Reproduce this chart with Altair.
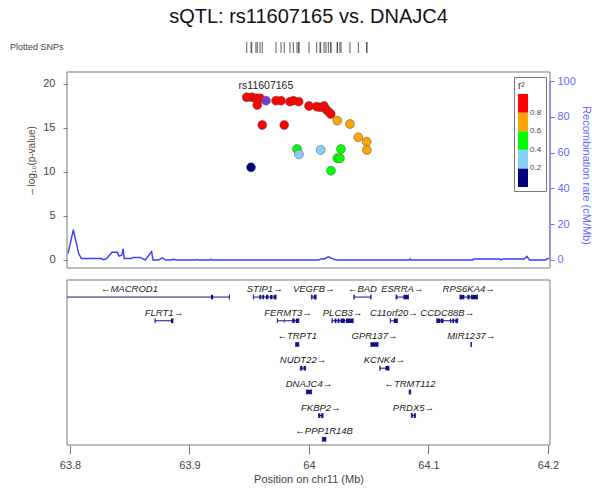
import altair as alt
import pandas as pd

# ---------------- association results ----------------
snp_pos = [63.9479, 63.9521, 63.9556, 63.9590, 63.9567, 63.9724, 63.9766, 63.9841, 63.9869, 63.9914,
           64.0000, 64.0064, 64.0092, 64.0126, 64.0142, 64.0162, 64.0182, 63.9609, 63.9793,
           64.0237, 64.0343, 64.0413, 64.0483, 64.0485,
           63.9900, 64.0268, 64.0237, 64.0259, 64.0184,
           63.9916, 64.0098,
           63.9515]
snp_logp = [18.49, 18.49, 18.38, 18.38, 17.61, 18.10, 18.10, 17.99, 18.10, 17.99,
            17.50, 17.42, 17.35, 17.50, 17.13, 16.85, 16.59, 15.34, 15.34,
            15.83, 15.45, 13.94, 13.44, 12.50,
            12.61, 12.61, 11.56, 11.56, 10.15,
            12.01, 12.50,
            10.53]
snp_r2 = [0.97, 0.96, 0.95, 0.95, 0.88, 0.96, 0.95, 0.94, 0.95, 0.93,
          0.92, 0.91, 0.90, 0.92, 0.89, 0.87, 0.86, 0.84, 0.83,
          0.78, 0.75, 0.70, 0.66, 0.63,
          0.52, 0.55, 0.47, 0.48, 0.42,
          0.32, 0.28,
          0.12]

lead_name = "rs11607165"
lead_pos = 63.9640
lead_logp = 18.10

# ---------------- recombination rate (cM/Mb) ----------------
rec_pos = [63.7984, 63.8028, 63.8072, 63.8095, 63.8263, 63.8278, 63.8307, 63.8351, 63.8395, 63.8409,
           63.8433, 63.8445, 63.8454, 63.8512, 63.8527, 63.8586, 63.8630, 63.8683, 63.8695, 63.8740,
           63.8771, 63.8800, 63.8850, 63.8864, 63.8894, 63.9050, 63.9061, 63.9070, 63.9170, 63.9179,
           63.9188, 64.0083, 64.0098, 64.0127, 64.0162, 64.0201, 64.0230, 64.0840, 64.0847, 64.0855,
           64.1370, 64.1375, 64.1595, 64.1605, 64.1625, 64.1801, 64.1824, 64.1845, 64.1977, 64.2007]
rec_rate = [3.7, 16.9, 3.7, 0.8, 0.8, 0.2, 0.8, 4.3, 4.3, 2.2,
            2.7, 6.3, 0.8, 0.8, 1.4, 1.4, 0.0, 4.7, 0.0, 0.0,
            1.2, 0.0, 0.0, 0.4, 0.0, 0.0, 0.3, 0.0, 0.0, 0.5,
            0.0, 0.0, 0.6, 0.6, 1.8, 0.6, 0.0, 0.0, 0.6, 0.0,
            0.0, 0.6, 0.6, 0.0, 0.6, 0.6, 2.0, 0.0, 0.0, 1.0]

# ---------------- genes ----------------
gene_name = ["MACROD1", "STIP1", "VEGFB", "BAD", "ESRRA", "RPS6KA4",
             "FLRT1", "FERMT3", "PLCB3", "C11orf20", "CCDC88B",
             "TRPT1", "GPR137", "MIR1237",
             "NUDT22", "KCNK4",
             "DNAJC4", "TRMT112",
             "FKBP2", "PRDX5",
             "PPP1R14B"]
gene_start = [63.7660, 63.9534, 64.0020, 64.0375, 64.0728, 64.1263,
              63.8711, 63.9735, 64.0192, 64.0680, 64.1069,
              63.9888, 64.0518, 64.1356,
              63.9928, 64.0592,
              63.9978, 64.0838,
              64.0080, 64.0856,
              64.0112]
gene_end = [63.9335, 63.9725, 64.0060, 64.0520, 64.0833, 64.1410,
            63.8862, 63.9915, 64.0370, 64.0740, 64.1245,
            63.9915, 64.0578, 64.1359,
            63.9972, 64.0670,
            64.0022, 64.0852,
            64.0118, 64.0892,
            64.0142]
gene_strand = ["-", "+", "+", "-", "+", "+",
               "+", "+", "+", "+", "+",
               "-", "+", "+",
               "+", "+",
               "+", "-",
               "+", "+",
               "-"]
gene_row = [0, 0, 0, 0, 0, 0,
            1, 1, 1, 1, 1,
            2, 2, 2,
            3, 3,
            4, 4,
            5, 5,
            6]

exon_gene = ["MACROD1", "MACROD1",
             "STIP1", "STIP1", "STIP1", "STIP1", "STIP1", "STIP1",
             "VEGFB", "VEGFB", "BAD", "BAD", "ESRRA", "ESRRA",
             "RPS6KA4", "RPS6KA4", "RPS6KA4",
             "FLRT1", "FLRT1",
             "FERMT3", "FERMT3", "FERMT3", "FERMT3",
             "PLCB3", "PLCB3", "PLCB3", "PLCB3", "PLCB3",
             "C11orf20", "C11orf20",
             "CCDC88B", "CCDC88B", "CCDC88B", "CCDC88B", "CCDC88B",
             "TRPT1", "GPR137", "MIR1237",
             "NUDT22", "NUDT22", "KCNK4", "KCNK4",
             "DNAJC4", "TRMT112", "FKBP2", "FKBP2", "PRDX5", "PRDX5", "PPP1R14B"]
exon_start = [63.9180, 63.9330,
              63.9534, 63.9585, 63.9610, 63.9640, 63.9675, 63.9705,
              64.0020, 64.0040, 64.0375, 64.0513, 64.0728, 64.0790,
              64.1263, 64.1325, 64.1355,
              63.8711, 63.8845,
              63.9735, 63.9790, 63.9860, 63.9890,
              64.0192, 64.0215, 64.0240, 64.0265, 64.0310,
              64.0680, 64.0710,
              64.1069, 64.1105, 64.1180, 64.1200, 64.1225,
              63.9888, 64.0518, 64.1355,
              63.9928, 63.9955, 64.0592, 64.0640,
              63.9978, 64.0838, 64.0080, 64.0102, 64.0856, 64.0878, 64.0112]
exon_end = [63.9198, 63.9335,
            63.9540, 63.9600, 63.9625, 63.9660, 63.9695, 63.9725,
            64.0030, 64.0060, 64.0382, 64.0520, 64.0740, 64.0833,
            64.1300, 64.1345, 64.1410,
            63.8716, 63.8862,
            63.9740, 63.9795, 63.9880, 63.9915,
            64.0198, 64.0230, 64.0255, 64.0300, 64.0370,
            64.0686, 64.0740,
            64.1100, 64.1125, 64.1190, 64.1215, 64.1245,
            63.9915, 64.0578, 64.1362,
            63.9945, 63.9972, 64.0598, 64.0670,
            64.0022, 64.0852, 64.0095, 64.0118, 64.0870, 64.0892, 64.0142]

r2_breaks = [0.2, 0.4, 0.6, 0.8]
r2_colors = ["#000080", "#87CEFA", "#00FF00", "#FFA500", "#FF0000"]
tick_mb = [63.8, 63.9, 64.0, 64.1, 64.2]
logp_ticks = [0, 5, 10, 15, 20]
rec_ticks = [0, 20, 40, 60, 80, 100]

# ---------------- tables ----------------
snps = pd.DataFrame({"pos": snp_pos, "logp": snp_logp, "r2": snp_r2})
lead = pd.DataFrame({"pos": [lead_pos], "logp": [lead_logp], "name": [lead_name]})
rec = pd.DataFrame({"pos": rec_pos, "rate": rec_rate})
genes = pd.DataFrame({"name": gene_name, "start": gene_start, "end": gene_end,
                      "strand": gene_strand, "row": gene_row})
genes["mid"] = (genes["start"] + genes["end"]) / 2
genes["label"] = [n + "→" if s == "+" else "←" + n for n, s in zip(genes["name"], genes["strand"])]
exons = pd.DataFrame({"name": exon_gene, "start": exon_start, "end": exon_end}).merge(
    genes[["name", "row"]], on="name")
gene_ends = pd.concat([
    genes[["start", "row"]].rename(columns={"start": "pos"}),
    genes[["end", "row"]].rename(columns={"end": "pos"}),
])

# ---------------- scales: one x, separate y per panel ----------------
X_MIN, X_MAX = 63.7975, 64.2017
P_MIN, P_MAX = -0.91, 21.36
R_MIN, R_MAX = -4.47, 105.03
G_MIN, G_MAX = -0.72, 6.24

FONT = "Liberation Sans"
GREY = "#7a7a7a"
TXT = "#454545"
REC_LINE = "#3c3cff"
REC_AXIS = "#6a6aff"
GENE = "#10108a"

xsc = alt.Scale(domain=[X_MIN, X_MAX], nice=False, zero=False)
x_axis = alt.Axis(values=tick_mb, format="~g", title="Position on chr11 (Mb)", domain=False,
                  grid=False, tickSize=9, tickColor=GREY, labelColor=TXT, labelFontSize=11,
                  labelPadding=5, titleFontSize=11, titleFontWeight="normal", titleColor=TXT,
                  titlePadding=3, labelFont=FONT, titleFont=FONT)


def X(field):
    return alt.X(field, type="quantitative", scale=xsc, axis=x_axis)


def psc():
    return alt.Scale(domain=[P_MIN, P_MAX], range=[232, 36], nice=False, zero=False)


def rsc():
    return alt.Scale(domain=[R_MIN, R_MAX], range=[232, 36], nice=False, zero=False)


def gsc():
    return alt.Scale(domain=[G_MIN, G_MAX], range=[244, 409], nice=False, zero=False)


# panel frames, spanning the full domain of each panel's scales
top_frame = alt.Chart(pd.DataFrame({"x0": [X_MIN], "x1": [X_MAX], "y0": [P_MIN], "y1": [P_MAX]})).mark_rect(
    fillOpacity=0, stroke=GREY, strokeWidth=1).encode(
    x=X("x0"), x2="x1",
    y=alt.Y("y0:Q", scale=psc(), axis=None), y2="y1")

gene_frame = alt.Chart(pd.DataFrame({"x0": [X_MIN], "x1": [X_MAX], "y0": [G_MIN], "y1": [G_MAX]})).mark_rect(
    fillOpacity=0, stroke=GREY, strokeWidth=1).encode(
    x=X("x0"), x2="x1",
    y=alt.Y("y0:Q", scale=gsc(), axis=None), y2="y1")

# recombination rate line with its right-hand axis
rec_line = alt.Chart(rec).mark_line(color=REC_LINE, strokeWidth=1.4, clip=True).encode(
    x=X("pos"),
    y=alt.Y("rate:Q", scale=rsc(),
            axis=alt.Axis(orient="right", values=rec_ticks, domain=False, grid=False, tickSize=4,
                          tickColor=REC_AXIS, labelColor=REC_AXIS, labelFontSize=11, labelPadding=3,
                          labelFont=FONT, title="Recombination rate (cM/Mb)", titleColor=REC_AXIS,
                          titleFontSize=11, titleFontWeight="normal", titleFont=FONT,
                          titleAngle=90, titleX=35, titleY=139, titleBaseline="middle")))

rec_axis_line = alt.Chart(pd.DataFrame({"pos": [X_MAX], "lo": [rec_ticks[0]], "hi": [rec_ticks[-1]]})).mark_rule(
    color=REC_AXIS, strokeWidth=1).encode(
    x=X("pos"), y=alt.Y("lo:Q", scale=rsc(), axis=None), y2="hi")

# SNP scatter coloured by LD
points = alt.Chart(snps).mark_circle(size=80, stroke="#505050", strokeWidth=0.5, opacity=1).encode(
    x=X("pos"),
    y=alt.Y("logp:Q", scale=psc(),
            axis=alt.Axis(values=logp_ticks, domain=False, grid=False, tickSize=4, tickColor=GREY,
                          labelColor=TXT, labelFontSize=11, labelPadding=8, labelFont=FONT,
                          title="– log₁₀(p-value)", titleColor="#5a4a3a", titleFontSize=10,
                          titleFontWeight="normal", titleFont=FONT, titleAngle=-90,
                          titleX=-36, titleY=124, titleBaseline="middle")),
    color=alt.Color("r2:Q",
                    scale=alt.Scale(type="threshold", domain=r2_breaks, range=r2_colors),
                    legend=alt.Legend(type="gradient", orient="none", legendX=447, legendY=41,
                                      direction="vertical", gradientLength=93, gradientThickness=10,
                                      title="r²", titleFontSize=10, titleFontWeight="normal",
                                      titleFont=FONT, titleColor="#333", titlePadding=3,
                                      labelFontSize=8, labelFont=FONT, labelColor=TXT, labelOffset=2,
                                      format=".1f", padding=4, strokeColor=GREY, fillColor="white")))

lead_point = alt.Chart(lead).mark_circle(size=80, color="#7a3cc8", stroke="#505050",
                                         strokeWidth=0.5, opacity=1).encode(
    x=X("pos"), y=alt.Y("logp:Q", scale=psc(), axis=None))

lead_label = alt.Chart(lead).mark_text(fontSize=10.5, font=FONT, color="#222", dy=-15,
                                       baseline="middle").encode(
    x=X("pos"), y=alt.Y("logp:Q", scale=psc(), axis=None), text="name:N")

# rug of plotted SNP positions
rug = alt.Chart(snps).mark_rule(color="#333", strokeWidth=0.8).encode(
    x=X("pos"), y=alt.value(6), y2=alt.value(17))

rug_label = alt.Chart(pd.DataFrame({"t": ["Plotted SNPs"]})).mark_text(
    fontSize=9, font=FONT, color=TXT, align="left", baseline="middle").encode(
    x=alt.value(-57), y=alt.value(11), text="t:N")

# gene track
gene_body = alt.Chart(genes).mark_rule(color=GENE, strokeWidth=1, clip=True).encode(
    x=X("start"), x2="end", y=alt.Y("row:Q", scale=gsc(), axis=None))

gene_caps = alt.Chart(gene_ends).mark_tick(color=GENE, orient="vertical", size=5, thickness=1,
                                           clip=True).encode(
    x=X("pos"), y=alt.Y("row:Q", scale=gsc(), axis=None))

gene_exons = alt.Chart(exons).mark_rule(color=GENE, strokeWidth=4.5, strokeCap="butt", clip=True).encode(
    x=X("start"), x2="end", y=alt.Y("row:Q", scale=gsc(), axis=None))

gene_labels = alt.Chart(genes).mark_text(fontSize=9.5, font=FONT, fontStyle="italic", color="#1a1a1a",
                                         dy=-8, baseline="middle").encode(
    x=X("mid"), y=alt.Y("row:Q", scale=gsc(), axis=None), text="label:N")

chart = alt.layer(
    top_frame, gene_frame, rec_line, rec_axis_line, points, lead_point, lead_label,
    rug, rug_label, gene_body, gene_caps, gene_exons, gene_labels,
).resolve_scale(y="independent").properties(
    width=483, height=409,
    autosize=alt.AutoSizeParams(type="none"),
    padding={"left": 67, "top": 36, "right": 42, "bottom": 47},
    title=alt.TitleParams("sQTL: rs11607165 vs. DNAJC4", fontSize=20, font=FONT,
                          fontWeight="normal", color="#111", anchor="middle", frame="group", offset=9),
).configure(font=FONT, background="white").configure_view(stroke="transparent")

chart.save("out.html", embed_options={"renderer": "svg", "actions": False})
